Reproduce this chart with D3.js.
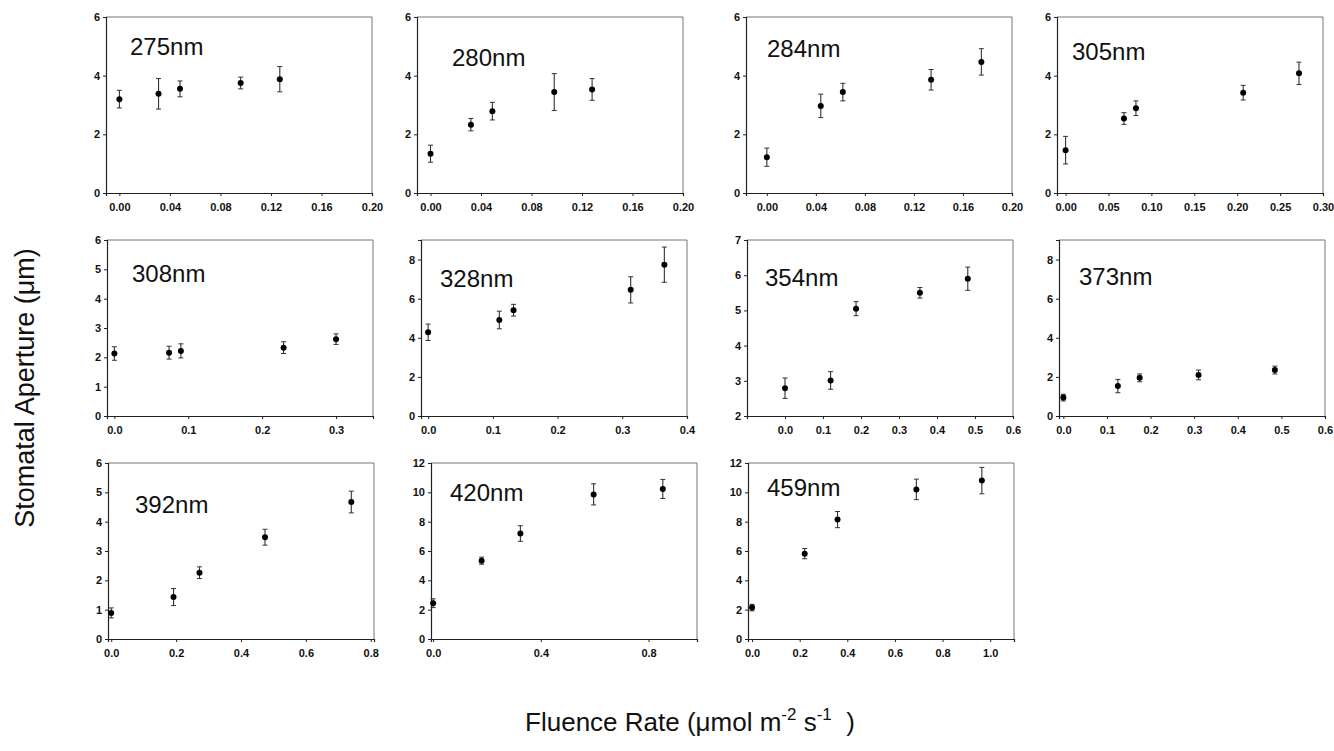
<!DOCTYPE html>
<html>
<head>
<meta charset="utf-8">
<script src="https://cdn.jsdelivr.net/npm/d3@7"></script>
<style>
body{margin:0;background:#fff}
svg text{font-family:"Liberation Sans",Arial,sans-serif}
</style>
</head>
<body>
<svg id="chart" width="1334" height="751"></svg>
<script>
// one entry per panel
var wavelengths=["275nm","280nm","284nm","305nm","308nm","328nm","354nm","373nm","392nm","420nm","459nm"]

var fluence=[
  [0.000,0.031,0.048,0.096,0.127],
  [0.000,0.032,0.049,0.098,0.128],
  [0.000,0.044,0.062,0.134,0.175],
  [0.000,0.068,0.082,0.207,0.272],
  [0.000,0.074,0.090,0.229,0.300],
  [0.000,0.110,0.132,0.313,0.365],
  [0.000,0.120,0.187,0.355,0.481],
  [0.000,0.125,0.175,0.310,0.485],
  [0.000,0.192,0.272,0.474,0.740],
  [0.000,0.180,0.324,0.596,0.853],
  [0.000,0.221,0.359,0.690,0.965]
]
var aperture=[
  [3.20,3.38,3.55,3.75,3.88],
  [1.34,2.33,2.79,3.44,3.53],
  [1.22,2.97,3.44,3.86,4.47],
  [1.46,2.54,2.89,3.42,4.08],
  [2.13,2.16,2.22,2.33,2.62],
  [4.28,4.91,5.41,6.45,7.74],
  [2.79,3.01,5.05,5.50,5.90],
  [0.94,1.53,1.95,2.10,2.35],
  [0.89,1.43,2.26,3.47,4.67],
  [2.44,5.34,7.19,9.86,10.23],
  [2.14,5.82,8.14,10.20,10.80]
]
var apertureErr=[
  [0.30,0.52,0.27,0.20,0.43],
  [0.29,0.21,0.30,0.63,0.37],
  [0.31,0.40,0.30,0.35,0.45],
  [0.47,0.20,0.25,0.25,0.38],
  [0.23,0.22,0.24,0.20,0.18],
  [0.42,0.45,0.30,0.67,0.90],
  [0.29,0.25,0.20,0.15,0.33],
  [0.17,0.34,0.20,0.25,0.20],
  [0.17,0.29,0.20,0.27,0.37],
  [0.30,0.24,0.53,0.72,0.65],
  [0.22,0.35,0.55,0.70,0.90]
]

// axis ranges and ticks
var xDomains=[[-0.0106,0.2],[-0.0107,0.2],[-0.017,0.2],[-0.01,0.30],[-0.01,0.35],[-0.011,0.4],
  [-0.1,0.6],[-0.01,0.6],[-0.01,0.81],[-0.008,0.98],[-0.017,1.1]]
var yDomains=[[0,6],[0,6],[0,6],[0,6],[0,6],[0,9],[2,7],[0,9],[0,6],[0,12],[0,12]]
var xTicks=[
  [0,0.04,0.08,0.12,0.16,0.20],
  [0,0.04,0.08,0.12,0.16,0.20],
  [0,0.04,0.08,0.12,0.16,0.20],
  [0,0.05,0.10,0.15,0.20,0.25,0.30],
  [0,0.1,0.2,0.3],
  [0,0.1,0.2,0.3,0.4],
  [0,0.1,0.2,0.3,0.4,0.5,0.6],
  [0,0.1,0.2,0.3,0.4,0.5,0.6],
  [0,0.2,0.4,0.6,0.8],
  [0,0.4,0.8],
  [0,0.2,0.4,0.6,0.8,1.0]
]
var xFormats=[".2f",".2f",".2f",".2f",".1f",".1f",".1f",".1f",".1f",".1f",".1f"]
var yTicks=[
  [0,2,4,6],[0,2,4,6],[0,2,4,6],[0,2,4,6],
  [0,1,2,3,4,5,6],
  [0,2,4,6,8],
  [2,3,4,5,6,7],
  [0,2,4,6,8],
  [0,1,2,3,4,5,6],
  [0,2,4,6,8,10,12],
  [0,2,4,6,8,10,12]
]

// layout
var rowTop=[17,240,463]
var panelH=176, panelW=266
var colLeft=[[106,417,746,1057],[107,421,747,1059],[108,431,748]]
var labelPos=[[24,38],[35,49],[21,40],[15,43],[25,42],[19,47],[18,46],[20,45],[27,50],[19,38],[19,33]]

var svg=d3.select("#chart")

wavelengths.forEach(function(w,i){
    var r = i<4 ? 0 : (i<8 ? 1 : 2)
    var c = i<4 ? i : (i<8 ? i-4 : i-8)
    var g = svg.append("g")
        .attr("transform",`translate(${colLeft[r][c]}, ${rowTop[r]})`)

    var x = d3.scaleLinear().domain(xDomains[i]).range([0,panelW])
    var y = d3.scaleLinear().domain(yDomains[i]).range([panelH,0])

    // frame: top/right lighter like the scan
    g.append("line").attr("x1",0).attr("x2",panelW).attr("y1",0).attr("y2",0)
        .attr("stroke","#777").attr("stroke-width",1)
    g.append("line").attr("x1",panelW).attr("x2",panelW).attr("y1",0).attr("y2",panelH)
        .attr("stroke","#777").attr("stroke-width",1)

    var ya = g.append("g")
        .call(d3.axisLeft(y).tickValues(yTicks[i]).tickSize(3).tickPadding(3).tickFormat(d3.format("d")))
    var xa = g.append("g")
        .attr("transform",`translate(0, ${panelH})`)
        .call(d3.axisBottom(x).tickValues(xTicks[i]).tickSize(3).tickPadding(7).tickFormat(d3.format(xFormats[i])))

    ;[ya,xa].forEach(function(a){
        a.select(".domain").attr("stroke","#222").attr("stroke-width",1.2)
        a.selectAll(".tick line").attr("stroke","#222")
        a.selectAll("text").style("font-size","11px").style("font-weight","bold").attr("fill","#111")
    })

    g.append("text")
        .attr("x",labelPos[i][0]).attr("y",labelPos[i][1])
        .style("font-size","24px").attr("fill","#111")
        .text(w)

    var pts = fluence[i].map(function(f,k){ return {f:f, v:aperture[i][k], e:apertureErr[i][k]} })

    var bars = g.selectAll(".err").data(pts).join("g").attr("class","err")
    bars.append("line")
        .attr("x1",d=>x(d.f)).attr("x2",d=>x(d.f))
        .attr("y1",d=>y(d.v-d.e)).attr("y2",d=>y(d.v+d.e))
        .attr("stroke","#333").attr("stroke-width",1.1)
    bars.append("line")
        .attr("x1",d=>x(d.f)-2.5).attr("x2",d=>x(d.f)+2.5)
        .attr("y1",d=>y(d.v+d.e)).attr("y2",d=>y(d.v+d.e))
        .attr("stroke","#333").attr("stroke-width",1)
    bars.append("line")
        .attr("x1",d=>x(d.f)-2.5).attr("x2",d=>x(d.f)+2.5)
        .attr("y1",d=>y(d.v-d.e)).attr("y2",d=>y(d.v-d.e))
        .attr("stroke","#333").attr("stroke-width",1)

    g.selectAll(".pt").data(pts).join("circle").attr("class","pt")
        .attr("cx",d=>x(d.f)).attr("cy",d=>y(d.v)).attr("r",3)
        .attr("fill","#000")
})

// shared axis titles
svg.append("text")
    .attr("transform","translate(34, 388) rotate(-90)")
    .attr("text-anchor","middle")
    .style("font-size","27px").attr("fill","#111")
    .text("Stomatal Aperture (\u03bcm)")

var xt = svg.append("text")
    .attr("x",690).attr("y",731)
    .attr("text-anchor","middle")
    .style("font-size","26px").attr("fill","#111")
xt.append("tspan").text("Fluence Rate (\u03bcmol m")
xt.append("tspan").attr("dy",-11).style("font-size","17px").text("-2")
xt.append("tspan").attr("dy",11).text(" s")
xt.append("tspan").attr("dy",-11).style("font-size","17px").text("-1")
xt.append("tspan").attr("dy",11).text("\u00a0\u00a0)")
</script>
</body>
</html>
